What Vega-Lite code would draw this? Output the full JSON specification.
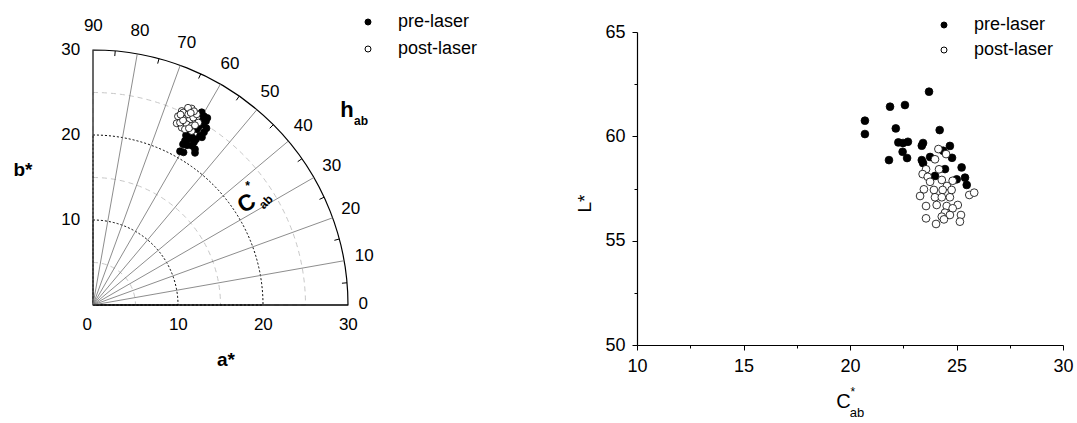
{
  "$schema": "https://vega.github.io/schema/vega-lite/v6.json",
  "padding": 0,
  "background": "white",
  "bounds": "flush",
  "center": true,
  "spacing": 137,
  "config": {"font": "Liberation Sans", "view": {"stroke": null}},
  "resolve": {"scale": {"fill": "independent"}, "legend": {"fill": "independent"}},
  "hconcat": [
    {
      "width": 500,
      "height": 377,
      "encoding": {
        "x": {"field": "a", "type": "quantitative", "scale": {"domain": [-10.9412, 47.8824], "nice": false, "zero": false}, "axis": null},
        "y": {"field": "b", "type": "quantitative", "scale": {"domain": [-8.4706, 35.8824], "nice": false, "zero": false}, "axis": null}
      },
      "layer": [
        {
          "data": {"values": [{"a": 0, "b": 0, "r": 5}, {"a": 0, "b": 0, "r": 15}, {"a": 0, "b": 0, "r": 25}]},
          "mark": {"type": "arc", "theta": 0, "theta2": 1.5708, "fill": "white", "fillOpacity": 0, "stroke": "#c8c8c8", "strokeWidth": 1, "strokeDash": [5, 4]},
          "encoding": {"radius": {"field": "r", "type": "quantitative", "stack": null, "scale": {"type": "linear", "domain": [0, 30], "range": [0, 255]}}}
        },
        {
          "data": {"values": [{"a": 0, "b": 0, "r": 10}, {"a": 0, "b": 0, "r": 20}]},
          "mark": {"type": "arc", "theta": 0, "theta2": 1.5708, "fill": "white", "fillOpacity": 0, "stroke": "#000000", "strokeWidth": 1, "strokeDash": [2, 2]},
          "encoding": {"radius": {"field": "r", "type": "quantitative", "stack": null, "scale": {"type": "linear", "domain": [0, 30], "range": [0, 255]}}}
        },
        {
          "data": {"values": [{"a": 0, "b": 0, "r": 30}]},
          "mark": {"type": "arc", "theta": 0, "theta2": 1.5708, "fill": "white", "fillOpacity": 0, "stroke": "#000000", "strokeWidth": 1.2},
          "encoding": {"radius": {"field": "r", "type": "quantitative", "stack": null, "scale": {"type": "linear", "domain": [0, 30], "range": [0, 255]}}}
        },
        {
          "data": {"values": [
            {"a": 0, "b": 0, "a2": 29.544, "b2": 5.209},
            {"a": 0, "b": 0, "a2": 28.191, "b2": 10.261},
            {"a": 0, "b": 0, "a2": 25.981, "b2": 15.0},
            {"a": 0, "b": 0, "a2": 22.981, "b2": 19.284},
            {"a": 0, "b": 0, "a2": 19.284, "b2": 22.981},
            {"a": 0, "b": 0, "a2": 15.0, "b2": 25.981},
            {"a": 0, "b": 0, "a2": 10.261, "b2": 28.191},
            {"a": 0, "b": 0, "a2": 5.209, "b2": 29.544},
            {"a": 0, "b": 0, "a2": 0, "b2": 30}
          ]},
          "mark": {"type": "rule", "stroke": "#707070", "strokeWidth": 0.8},
          "encoding": {"x2": {"field": "a2"}, "y2": {"field": "b2"}}
        },
        {
          "data": {"values": [{"a": 0, "b": 0, "a2": 30, "b2": 0}]},
          "mark": {"type": "rule", "stroke": "#000000", "strokeWidth": 1.2},
          "encoding": {"x2": {"field": "a2"}, "y2": {"field": "b2"}}
        },
        {
          "data": {"values": [
            {"a": 29.288, "b": 2.562, "a2": 29.886, "b2": 2.615},
            {"a": 28.398, "b": 7.609, "a2": 28.978, "b2": 7.765},
            {"a": 26.645, "b": 12.425, "a2": 27.189, "b2": 12.679},
            {"a": 24.083, "b": 16.863, "a2": 24.575, "b2": 17.207},
            {"a": 20.789, "b": 20.789, "a2": 21.213, "b2": 21.213},
            {"a": 16.863, "b": 24.083, "a2": 17.207, "b2": 24.575},
            {"a": 12.425, "b": 26.645, "a2": 12.679, "b2": 27.189},
            {"a": 7.609, "b": 28.398, "a2": 7.765, "b2": 28.978},
            {"a": 2.562, "b": 29.288, "a2": 2.615, "b2": 29.886}
          ]},
          "mark": {"type": "rule", "stroke": "#000000", "strokeWidth": 1},
          "encoding": {"x2": {"field": "a2"}, "y2": {"field": "b2"}}
        },
        {
          "data": {"values": [
            {"t": "90", "a": 0.04, "b": 32.82},
            {"t": "80", "a": 5.53, "b": 32.24},
            {"t": "70", "a": 11.02, "b": 30.78},
            {"t": "60", "a": 16.12, "b": 28.35},
            {"t": "50", "a": 20.82, "b": 25.09},
            {"t": "40", "a": 24.74, "b": 21.06},
            {"t": "30", "a": 28.08, "b": 16.35},
            {"t": "20", "a": 30.32, "b": 11.26},
            {"t": "10", "a": 31.92, "b": 5.76},
            {"t": "0", "a": 31.8, "b": 0.12},
            {"t": "0", "a": -0.67, "b": -2.35},
            {"t": "10", "a": 10.04, "b": -2.35},
            {"t": "20", "a": 20.04, "b": -2.35},
            {"t": "30", "a": 30.04, "b": -2.35}
          ]},
          "mark": {"type": "text", "fontSize": 17, "align": "center", "baseline": "middle", "color": "#000000"},
          "encoding": {"text": {"field": "t"}}
        },
        {
          "data": {"values": [
            {"t": "30", "a": -1.5, "b": 30},
            {"t": "20", "a": -1.5, "b": 20},
            {"t": "10", "a": -1.5, "b": 10}
          ]},
          "mark": {"type": "text", "fontSize": 17, "align": "right", "baseline": "middle", "color": "#000000"},
          "encoding": {"text": {"field": "t"}}
        },
        {
          "data": {"values": [
            {"t": "b*", "a": -8.24, "b": 15.9},
            {"t": "a*", "a": 15.65, "b": -6.47}
          ]},
          "mark": {"type": "text", "fontSize": 19, "fontWeight": "bold", "align": "center", "baseline": "middle", "color": "#000000"},
          "encoding": {"text": {"field": "t"}}
        },
        {
          "data": {"values": [{"t": "h", "a": 29.88, "b": 22.94}]},
          "mark": {"type": "text", "fontSize": 22, "fontWeight": "bold", "align": "center", "baseline": "middle", "color": "#000000"},
          "encoding": {"text": {"field": "t"}}
        },
        {
          "data": {"values": [{"t": "ab", "a": 31.53, "b": 21.65}, {"t": "*", "a": 18.2, "b": 14.0}]},
          "mark": {"type": "text", "fontSize": 12, "fontWeight": "bold", "align": "center", "baseline": "middle", "color": "#000000"},
          "encoding": {"text": {"field": "t"}}
        },
        {
          "data": {"values": [{"t": "C", "a": 18.08, "b": 11.94}]},
          "mark": {"type": "text", "fontSize": 23, "fontWeight": "bold", "align": "center", "baseline": "middle", "angle": -30, "color": "#000000"},
          "encoding": {"text": {"field": "t"}}
        },
        {
          "data": {"values": [{"t": "ab", "a": 20.35, "b": 12.12}]},
          "mark": {"type": "text", "fontSize": 12, "fontWeight": "bold", "align": "center", "baseline": "middle", "angle": -45, "color": "#000000"},
          "encoding": {"text": {"field": "t"}}
        },
        {
          "data": {"values": [
            {"s": "pre-laser", "a": 12.79, "b": 22.67},
            {"s": "pre-laser", "a": 13.06, "b": 22.2},
            {"s": "pre-laser", "a": 13.29, "b": 21.61},
            {"s": "pre-laser", "a": 12.94, "b": 21.26},
            {"s": "pre-laser", "a": 13.35, "b": 20.79},
            {"s": "pre-laser", "a": 13.06, "b": 20.32},
            {"s": "pre-laser", "a": 12.59, "b": 19.91},
            {"s": "pre-laser", "a": 12.12, "b": 19.49},
            {"s": "pre-laser", "a": 11.65, "b": 19.73},
            {"s": "pre-laser", "a": 11.18, "b": 19.49},
            {"s": "pre-laser", "a": 10.82, "b": 19.32},
            {"s": "pre-laser", "a": 10.59, "b": 18.91},
            {"s": "pre-laser", "a": 11.06, "b": 18.79},
            {"s": "pre-laser", "a": 11.65, "b": 18.73},
            {"s": "pre-laser", "a": 12.0, "b": 18.32},
            {"s": "pre-laser", "a": 10.24, "b": 18.08},
            {"s": "pre-laser", "a": 10.65, "b": 17.96},
            {"s": "pre-laser", "a": 12.59, "b": 21.85},
            {"s": "pre-laser", "a": 12.24, "b": 20.68},
            {"s": "pre-laser", "a": 12.47, "b": 21.02},
            {"s": "pre-laser", "a": 11.41, "b": 20.2},
            {"s": "pre-laser", "a": 12.82, "b": 19.73},
            {"s": "pre-laser", "a": 10.94, "b": 19.96},
            {"s": "pre-laser", "a": 11.88, "b": 19.14},
            {"s": "pre-laser", "a": 13.45, "b": 22.0},
            {"s": "pre-laser", "a": 12.0, "b": 17.9},
            {"s": "post-laser", "a": 10.44, "b": 22.82},
            {"s": "post-laser", "a": 11.61, "b": 23.11},
            {"s": "post-laser", "a": 9.85, "b": 21.38},
            {"s": "post-laser", "a": 10.82, "b": 22.16},
            {"s": "post-laser", "a": 11.41, "b": 21.85},
            {"s": "post-laser", "a": 12.2, "b": 22.05},
            {"s": "post-laser", "a": 10.44, "b": 20.87},
            {"s": "post-laser", "a": 11.61, "b": 20.47},
            {"s": "post-laser", "a": 11.02, "b": 21.26},
            {"s": "post-laser", "a": 10.62, "b": 22.64},
            {"s": "post-laser", "a": 11.21, "b": 22.44},
            {"s": "post-laser", "a": 10.24, "b": 21.46},
            {"s": "post-laser", "a": 11.8, "b": 22.05},
            {"s": "post-laser", "a": 11.61, "b": 21.06},
            {"s": "post-laser", "a": 12.39, "b": 21.46},
            {"s": "post-laser", "a": 12.2, "b": 22.44},
            {"s": "post-laser", "a": 10.82, "b": 20.67},
            {"s": "post-laser", "a": 10.0, "b": 22.2},
            {"s": "post-laser", "a": 11.18, "b": 23.2},
            {"s": "post-laser", "a": 11.88, "b": 22.79},
            {"s": "post-laser", "a": 10.59, "b": 21.73},
            {"s": "post-laser", "a": 11.29, "b": 20.79},
            {"s": "post-laser", "a": 12.0, "b": 21.14},
            {"s": "post-laser", "a": 10.3, "b": 22.4},
            {"s": "post-laser", "a": 11.5, "b": 22.6}
          ]},
          "mark": {"type": "point", "shape": "circle", "filled": true, "size": 48, "stroke": "#000000", "strokeWidth": 0.8, "opacity": 1},
          "encoding": {
            "fill": {
              "field": "s", "type": "nominal",
              "scale": {"domain": ["pre-laser", "post-laser"], "range": ["#000000", "#ffffff"]},
              "legend": {"orient": "none", "legendX": 359, "legendY": 13, "title": null, "labelFontSize": 18, "labelColor": "#000000", "symbolType": "circle", "symbolSize": 36, "symbolStrokeWidth": 1, "labelOffset": 21, "rowPadding": 9, "padding": 0}
            }
          }
        }
      ]
    },
    {
      "width": 426,
      "height": 313,
      "encoding": {
        "x": {
          "field": "C", "type": "quantitative",
          "scale": {"domain": [10, 30], "nice": false, "zero": false},
          "axis": {
            "values": [10, 12.5, 15, 17.5, 20, 22.5, 25, 27.5, 30],
            "labelExpr": "datum.value % 5 === 0 ? datum.label : ''",
            "tickSize": {"condition": {"test": "datum.value % 5 === 0", "value": 5}, "value": 3},
            "grid": false, "title": null, "labelFontSize": 18, "labelPadding": 7, "labelFlush": false, "labelOverlap": false,
            "domainColor": "#000000", "tickColor": "#000000", "labelColor": "#000000", "domainWidth": 1.2, "tickWidth": 1
          }
        },
        "y": {
          "field": "L", "type": "quantitative",
          "scale": {"domain": [50, 65], "nice": false, "zero": false},
          "axis": {
            "values": [50, 52.5, 55, 57.5, 60, 62.5, 65],
            "labelExpr": "datum.value % 5 === 0 ? datum.label : ''",
            "tickSize": {"condition": {"test": "datum.value % 5 === 0", "value": 5}, "value": 3},
            "grid": false, "title": "L*", "titleFontSize": 19, "titleFontWeight": "normal", "titleColor": "#000000", "titlePadding": 10, "titleY": 171,
            "labelFontSize": 18, "labelPadding": 7, "labelFlush": false, "labelOverlap": false,
            "domainColor": "#000000", "tickColor": "#000000", "labelColor": "#000000", "domainWidth": 1.2, "tickWidth": 1
          }
        }
      },
      "layer": [
        {
          "data": {"values": [
            {"s": "pre-laser", "C": 23.71, "L": 62.14},
            {"s": "pre-laser", "C": 21.88, "L": 61.42},
            {"s": "pre-laser", "C": 22.58, "L": 61.5},
            {"s": "pre-laser", "C": 20.7, "L": 60.75},
            {"s": "pre-laser", "C": 20.7, "L": 60.11},
            {"s": "pre-laser", "C": 22.15, "L": 60.38},
            {"s": "pre-laser", "C": 24.21, "L": 60.3},
            {"s": "pre-laser", "C": 22.27, "L": 59.71},
            {"s": "pre-laser", "C": 22.49, "L": 59.68},
            {"s": "pre-laser", "C": 22.72, "L": 59.74},
            {"s": "pre-laser", "C": 23.43, "L": 59.68},
            {"s": "pre-laser", "C": 23.37, "L": 59.55},
            {"s": "pre-laser", "C": 22.47, "L": 59.26},
            {"s": "pre-laser", "C": 22.68, "L": 58.96},
            {"s": "pre-laser", "C": 21.83, "L": 58.86},
            {"s": "pre-laser", "C": 23.37, "L": 58.86},
            {"s": "pre-laser", "C": 23.76, "L": 59.01},
            {"s": "pre-laser", "C": 24.37, "L": 59.31},
            {"s": "pre-laser", "C": 24.69, "L": 59.54},
            {"s": "pre-laser", "C": 24.79, "L": 58.97},
            {"s": "pre-laser", "C": 23.43, "L": 58.72},
            {"s": "pre-laser", "C": 24.46, "L": 58.43},
            {"s": "pre-laser", "C": 25.24, "L": 58.51},
            {"s": "pre-laser", "C": 23.99, "L": 58.1},
            {"s": "pre-laser", "C": 25.01, "L": 57.94},
            {"s": "pre-laser", "C": 25.4, "L": 58.02},
            {"s": "pre-laser", "C": 25.48, "L": 57.67},
            {"s": "post-laser", "C": 24.15, "L": 59.39},
            {"s": "post-laser", "C": 24.51, "L": 59.15},
            {"s": "post-laser", "C": 23.99, "L": 58.9},
            {"s": "post-laser", "C": 23.57, "L": 58.42},
            {"s": "post-laser", "C": 24.18, "L": 58.42},
            {"s": "post-laser", "C": 23.41, "L": 58.19},
            {"s": "post-laser", "C": 23.65, "L": 58.06},
            {"s": "post-laser", "C": 24.31, "L": 57.91},
            {"s": "post-laser", "C": 24.82, "L": 57.87},
            {"s": "post-laser", "C": 23.76, "L": 57.82},
            {"s": "post-laser", "C": 24.55, "L": 57.62},
            {"s": "post-laser", "C": 23.47, "L": 57.46},
            {"s": "post-laser", "C": 23.94, "L": 57.43},
            {"s": "post-laser", "C": 24.35, "L": 57.43},
            {"s": "post-laser", "C": 24.77, "L": 57.43},
            {"s": "post-laser", "C": 23.29, "L": 57.14},
            {"s": "post-laser", "C": 23.99, "L": 57.08},
            {"s": "post-laser", "C": 24.31, "L": 57.08},
            {"s": "post-laser", "C": 24.69, "L": 57.08},
            {"s": "post-laser", "C": 25.6, "L": 57.19},
            {"s": "post-laser", "C": 25.83, "L": 57.3},
            {"s": "post-laser", "C": 24.07, "L": 56.71},
            {"s": "post-laser", "C": 23.57, "L": 56.66},
            {"s": "post-laser", "C": 24.54, "L": 56.66},
            {"s": "post-laser", "C": 25.06, "L": 56.71},
            {"s": "post-laser", "C": 24.82, "L": 56.55},
            {"s": "post-laser", "C": 24.46, "L": 56.34},
            {"s": "post-laser", "C": 24.69, "L": 56.23},
            {"s": "post-laser", "C": 25.21, "L": 56.23},
            {"s": "post-laser", "C": 24.31, "L": 56.15},
            {"s": "post-laser", "C": 23.57, "L": 56.07},
            {"s": "post-laser", "C": 25.16, "L": 55.91},
            {"s": "post-laser", "C": 24.04, "L": 55.8},
            {"s": "post-laser", "C": 24.41, "L": 56.02}
          ]},
          "mark": {"type": "point", "shape": "circle", "filled": true, "size": 60, "stroke": "#000000", "strokeWidth": 0.8, "opacity": 1},
          "encoding": {
            "fill": {
              "field": "s", "type": "nominal",
              "scale": {"domain": ["pre-laser", "post-laser"], "range": ["#000000", "#ffffff"]},
              "legend": {"orient": "none", "legendX": 298, "legendY": -16, "title": null, "labelFontSize": 18, "labelColor": "#000000", "symbolType": "circle", "symbolSize": 36, "symbolStrokeWidth": 1, "labelOffset": 21, "rowPadding": 7, "padding": 0}
            }
          }
        },
        {
          "data": {"values": [{"t": "C", "C": 19.69, "L": 47.27}]},
          "mark": {"type": "text", "fontSize": 20, "align": "center", "baseline": "middle", "color": "#000000"},
          "encoding": {"text": {"field": "t"}}
        },
        {
          "data": {"values": [{"t": "*", "C": 20.13, "L": 47.75}]},
          "mark": {"type": "text", "fontSize": 12, "align": "center", "baseline": "middle", "color": "#000000"},
          "encoding": {"text": {"field": "t"}}
        },
        {
          "data": {"values": [{"t": "ab", "C": 20.33, "L": 46.74}]},
          "mark": {"type": "text", "fontSize": 13, "align": "center", "baseline": "middle", "color": "#000000"},
          "encoding": {"text": {"field": "t"}}
        }
      ]
    }
  ]
}
